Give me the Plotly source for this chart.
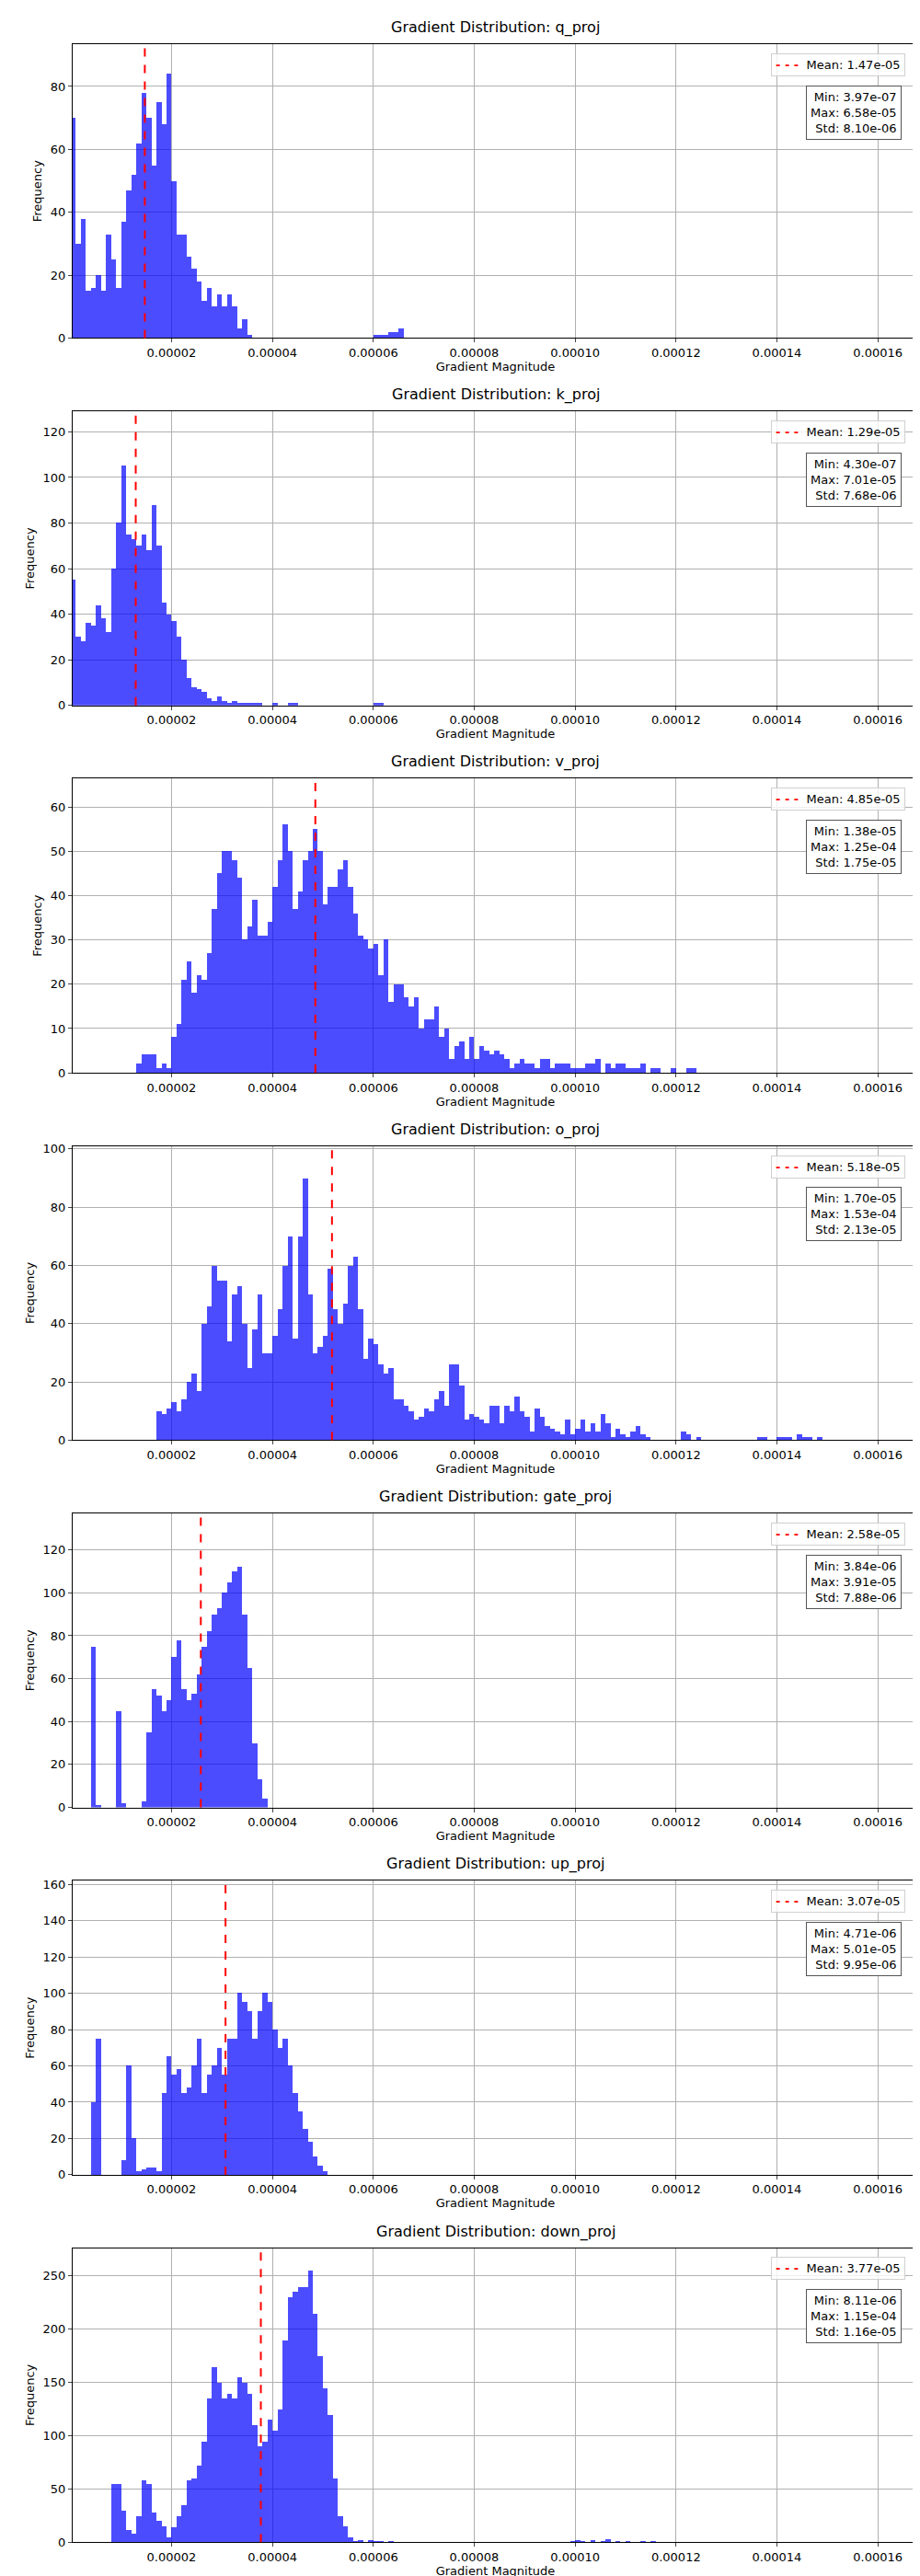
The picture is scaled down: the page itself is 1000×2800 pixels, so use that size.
import plotly.graph_objects as go

BIN = 1e-6
layers = ["q_proj", "k_proj", "v_proj", "o_proj", "gate_proj", "up_proj", "down_proj"]

# counts per 1e-6 bin, starting at bin index given by *_start
q_start = 0
q_counts = [70, 30, 38, 15, 16, 20, 15, 33, 25, 16, 37, 47, 52, 62, 78, 70, 55, 75, 68, 84,
            50, 33, 33, 26, 22, 18, 12, 16, 10, 14, 10, 14, 10, 3, 6, 1,
            0, 0, 0, 0, 0, 0, 0, 0, 0, 0, 0, 0, 0, 0, 0, 0, 0, 0, 0, 0, 0, 0, 0, 0,
            1, 1, 1, 2, 2, 3]
k_start = 0
k_counts = [55, 30, 28, 36, 35, 44, 38, 32, 60, 80, 105, 75, 73, 70, 75, 68, 88, 70, 45, 40,
            37, 30, 20, 12, 8, 7, 6, 3, 2, 4, 2, 1, 2, 1, 1, 1, 1, 1, 0, 0, 1, 0, 0, 1, 1,
            0, 0, 0, 0, 0, 0, 0, 0, 0, 0, 0, 0, 0, 0, 0, 1, 1]
v_start = 13
v_counts = [2, 4, 4, 4, 1, 2, 1, 8, 11, 21, 25, 18, 22, 21, 27, 37, 45, 50, 50, 48, 44, 30, 33,
            39, 31, 31, 34, 42, 48, 56, 50, 37, 41, 48, 50, 55, 50, 38, 42, 42, 46, 48, 42, 36,
            31, 30, 28, 29, 22, 30, 16, 20, 20, 17, 15, 17, 10, 12, 12, 15, 8, 10, 3, 6, 7, 3,
            8, 3, 6, 5, 4, 5, 4, 3, 1, 2, 3, 2, 2, 1, 3, 3, 1, 2, 2, 2, 1, 1, 1, 2, 2, 3, 0, 2,
            1, 2, 2, 1, 1, 1, 2, 0, 1, 1, 0, 0, 1, 0, 0, 1, 1]
o_start = 17
o_counts = [10, 9, 11, 13, 10, 14, 20, 23, 17, 40, 46, 60, 55, 55, 34, 50, 53, 40, 25, 38, 50,
            30, 30, 36, 45, 60, 70, 35, 70, 90, 50, 30, 32, 36, 59, 45, 40, 47, 60, 63, 45, 28,
            35, 33, 26, 23, 25, 14, 14, 12, 10, 7, 8, 11, 10, 14, 17, 12, 26, 26, 19, 7, 9, 8,
            7, 6, 12, 12, 6, 12, 10, 15, 10, 8, 3, 11, 8, 5, 4, 3, 2, 7, 2, 4, 7, 3, 6, 3, 9, 6,
            1, 4, 2, 1, 3, 5, 2, 1, 0, 0, 0, 0, 0, 0, 3, 2, 0, 1,
            0, 0, 0, 0, 0, 0, 0, 0, 0, 0, 0, 1, 1, 0, 0, 1, 1, 1, 0, 2, 1, 1, 0, 1]
gate_start = 4
gate_counts = [75, 1, 0, 0, 0, 45, 2, 0, 0, 0, 3, 35, 55, 52, 45, 50, 70, 78, 55, 50, 53, 62,
               75, 82, 90, 93, 100, 105, 110, 112, 90, 65, 30, 13, 4]
up_start = 4
up_counts = [40, 75, 0, 0, 0, 0, 8, 60, 20, 2, 3, 4, 4, 2, 45, 65, 55, 58, 45, 48, 60, 75, 45,
             55, 60, 70, 55, 75, 75, 100, 95, 90, 75, 90, 100, 95, 80, 70, 75, 60, 45, 35, 25,
             18, 10, 5, 2]
down_start = 8
down_counts = [55, 55, 30, 12, 8, 25, 58, 55, 28, 20, 15, 5, 14, 25, 35, 58, 60, 72, 95, 135,
               165, 150, 135, 140, 135, 155, 150, 140, 110, 90, 95, 115, 105, 125, 190, 230,
               235, 240, 240, 255, 215, 175, 145, 120, 60, 25, 15, 5, 1, 2, 0, 2, 1, 1, 0, 1]
down_tail_bins = [99, 100, 101, 103, 105, 106, 108, 110, 113, 115]
down_tail_counts = [1, 2, 1, 2, 1, 3, 1, 1, 1, 1]

means = [1.47e-05, 1.29e-05, 4.85e-05, 5.18e-05, 2.58e-05, 3.07e-05, 3.77e-05]
mins = ["3.97e-07", "4.30e-07", "1.38e-05", "1.70e-05", "3.84e-06", "4.71e-06", "8.11e-06"]
maxs = ["6.58e-05", "7.01e-05", "1.25e-04", "1.53e-04", "3.91e-05", "5.01e-05", "1.15e-04"]
stds = ["8.10e-06", "7.68e-06", "1.75e-05", "2.13e-05", "7.88e-06", "9.95e-06", "1.16e-05"]
ymax = [93.5, 129, 66.5, 101, 137, 162, 276]
yticks = [[0, 20, 40, 60, 80], [0, 20, 40, 60, 80, 100, 120], [0, 10, 20, 30, 40, 50, 60],
          [0, 20, 40, 60, 80, 100], [0, 20, 40, 60, 80, 100, 120],
          [0, 20, 40, 60, 80, 100, 120, 140, 160], [0, 50, 100, 150, 200, 250]]
xtick_vals = [0.00002, 0.00004, 0.00006, 0.00008, 0.00010, 0.00012, 0.00014, 0.00016]
xtick_text = ["0.00002", "0.00004", "0.00006", "0.00008", "0.00010", "0.00012", "0.00014", "0.00016"]
x_range = [4e-7, 1.68e-4]

series = [(q_start, q_counts, [], []), (k_start, k_counts, [], []), (v_start, v_counts, [], []),
          (o_start, o_counts, [], []), (gate_start, gate_counts, [], []),
          (up_start, up_counts, [], []), (down_start, down_counts, down_tail_bins, down_tail_counts)]

W, H = 1000, 2800
L, R = 71, 990
TOP0, BOT0, PITCH = 36, 357, 401
FONT = "DejaVu Sans"

fig = go.Figure()
shapes, annots = [], []
layout_axes = {}
for i, name in enumerate(layers):
    start, counts, tb, tc = series[i]
    bins = [start + j for j in range(len(counts))] + tb
    vals = counts + tc
    xs = [(b + 0.5) * BIN for b in bins]
    ax = "" if i == 0 else str(i + 1)
    fig.add_trace(go.Bar(x=xs, y=vals, width=BIN, marker=dict(color="rgba(0,0,255,0.7)", line=dict(width=0)),
                         xaxis="x" + ax, yaxis="y" + ax, showlegend=False))
    top = TOP0 + PITCH * i
    bot = BOT0 + PITCH * i
    d0, d1 = 1 - bot / H, 1 - top / H
    layout_axes["xaxis" + ax] = dict(domain=[0, 1], anchor="y" + ax, range=x_range, tickvals=xtick_vals,
                                     ticktext=xtick_text, showgrid=True, gridcolor="#b0b0b0", gridwidth=1,
                                     showline=True, linecolor="black", mirror=True, ticks="outside",
                                     ticklen=4, zeroline=False, tickfont=dict(size=13),
                                     title=dict(text="Gradient Magnitude", standoff=2, font=dict(size=13)))
    layout_axes["yaxis" + ax] = dict(domain=[d0, d1], anchor="x" + ax, range=[0, ymax[i]], tickvals=yticks[i],
                                     showgrid=True, gridcolor="#b0b0b0", gridwidth=1, showline=True,
                                     linecolor="black", mirror=True, ticks="outside", ticklen=4, zeroline=False,
                                     title=dict(text="Frequency", standoff=6, font=dict(size=13)))
    shapes.append(dict(type="line", xref="x" + ax, yref="y" + ax + " domain", x0=means[i], x1=means[i],
                       y0=0, y1=1, line=dict(color="red", width=2, dash="dash")))
    annots.append(dict(text="Gradient Distribution: " + name, xref="paper", yref="paper", x=0.5,
                       y=1 - (top - 6) / H, yanchor="bottom", showarrow=False, font=dict(size=16)))
    annots.append(dict(text="<span style='color:red'><b>- - -</b></span>&nbsp;&nbsp;Mean: %.2e" % means[i],
                       xref="paper", yref="paper", x=(R - 14 - L) / (R - L),
                       y=1 - (top + 10) / H, xanchor="right", yanchor="top", showarrow=False, font=dict(size=13),
                       bordercolor="#d0d0d0", borderwidth=1, borderpad=4, bgcolor="rgba(255,255,255,0.8)",
                       align="left"))
    annots.append(dict(text="Min: %s<br>Max: %s<br>Std: %s" % (mins[i], maxs[i], stds[i]), xref="paper",
                       yref="paper", x=(R - 18 - L) / (R - L), y=1 - (top + 45) / H, xanchor="right",
                       yanchor="top", showarrow=False, font=dict(size=13), align="right",
                       bordercolor="#555555", borderwidth=1, borderpad=4, bgcolor="white"))

fig.update_layout(width=W, height=H, margin=dict(l=L, r=W - R, t=0, b=0), plot_bgcolor="white",
                  paper_bgcolor="white", bargap=0, font=dict(family=FONT, size=13, color="black"),
                  shapes=shapes, annotations=annots, **layout_axes)
fig.write_html("out.html")
